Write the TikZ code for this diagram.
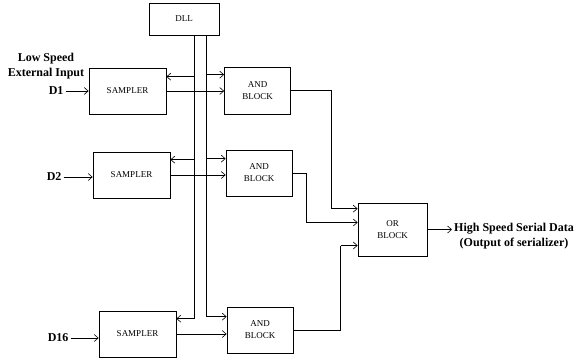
\documentclass[tikz,border=0pt]{standalone}
\usepackage{fontspec}
\setmainfont{Liberation Serif}
\usetikzlibrary{positioning, arrows.meta}

\begin{document}
\begin{tikzpicture}[
    x=1pt, y=-1pt,
    block/.style={
        rectangle,
        draw=black,
        line width=0.7pt,
        align=center,
        inner sep=0pt,
        minimum width=77pt,
        minimum height=46pt,
        font=\fontsize{9}{12}\selectfont
    },
    andbox/.style={
        block,
        minimum width=66pt
    },
    label/.style={
        align=center,
        inner sep=2pt,
        font=\fontsize{12}{15}\selectfont\bfseries
    },
    line/.style={
        line width=0.7pt
    },
    arrow/.style={
        line width=0.7pt,
        -{Straight Barb[length=4pt,width=7pt,line width=0.6pt]}
    }
]
\useasboundingbox (0,0) rectangle (580,360);

% Nodes
\node (dll) [block, minimum width=70pt, minimum height=32pt] at (184,19) {DLL};

\node (s1) [block] at (127.5,91) {SAMPLER};
\node (s2) [block] at (131.5,175) {SAMPLER};
\node (s16) [block] at (137.5,334) {SAMPLER};

\node (a1) [andbox, minimum height=47pt] at (257.5,90.5) {AND\\BLOCK};
\node (a2) [andbox] at (259,173) {AND\\BLOCK};
\node (a16) [andbox] at (260,330) {AND\\BLOCK};

\node (or) [block, minimum width=69pt, minimum height=53pt] at (392.5,229.5) {OR\\BLOCK};

\node (d1) [label, left=23pt of s1.west, anchor=east] {D1};
\node (d2) [label, left=29pt of s2.west, anchor=east, yshift=-2pt] {D2};
\node (d16) [label, left=28pt of s16.west, anchor=east, yshift=-4pt] {D16};
\node (lsi) [label] at (46,66) {Low Speed\\External Input};

\node (out) [label, anchor=north west] at (452,221) {High Speed Serial Data\\(Output of serializer)};

% Clock lines from DLL
\coordinate (busL) at ([xshift=10pt]dll.south);
\coordinate (busR) at ([xshift=22pt]dll.south);
\coordinate (s1clk) at ([yshift=-9pt]s1.north east);
\coordinate (s2clk) at ([yshift=-8pt]s2.north east);
\coordinate (s16clk) at ([yshift=-8pt]s16.north east);
\coordinate (a1clk) at ([yshift=-8pt]a1.north west);
\coordinate (a2clk) at ([yshift=-9pt]a2.north west);
\coordinate (a16clk) at ([yshift=-10pt]a16.north west);

\draw [arrow] (busL) |- (s16clk);
\draw [arrow] (busR) |- (a16clk);
\draw [arrow] (busL |- s1clk) -- (s1clk);
\draw [arrow] (busL |- s2clk) -- (s2clk);
\draw [arrow] (busR |- a1clk) -- (a1clk);
\draw [arrow] (busR |- a2clk) -- (a2clk);

% Inputs
\draw [arrow] (d1.east) -- (d1.east -| s1.west);
\draw [arrow] (d2.east) -- (d2.east -| s2.west);
\draw [arrow] (d16.east) -- (d16.east -| s16.west);

% Sampler to AND
\draw [arrow] (s1.east) -- (s1.east -| a1.west);
\draw [arrow] (s2.east) -- (s2.east -| a2.west);
\draw [arrow] (s16.east) -- (s16.east -| a16.west);

% AND to OR
\draw [line] (a1.east) -| ([xshift=-26pt,yshift=-6pt]or.north west);
\draw [arrow] ([xshift=-26pt,yshift=-6pt]or.north west) -- ([yshift=-6pt]or.north west);
\draw [line] (a2.east) -| ([xshift=-51pt,yshift=7pt]or.west);
\draw [arrow] ([xshift=-51pt,yshift=7pt]or.west) -- ([yshift=7pt]or.west);
\draw [line] (a16.east) -| ([xshift=-17pt,yshift=-16pt]or.west);
\draw [arrow] ([xshift=-17pt,yshift=-16pt]or.west) -- ([yshift=-16pt]or.west);

% Output
\draw [arrow] (or.east) -- (or.east -| out.west);

\end{tikzpicture}
\end{document}
